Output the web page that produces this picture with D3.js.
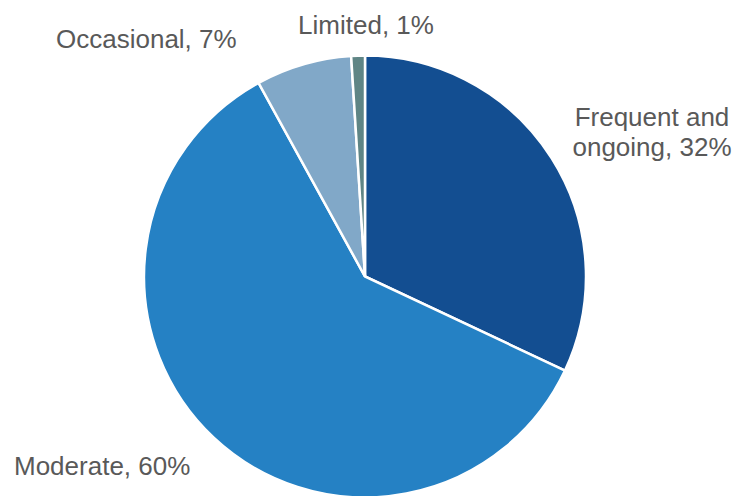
<!DOCTYPE html>
<html>
<head>
<meta charset="utf-8">
<script src="https://cdn.jsdelivr.net/npm/d3@7"></script>
<style>
  body { margin: 0; background: #fff; }
  svg text { font-family: "Liberation Sans", Arial, sans-serif; fill: #595959; }
</style>
</head>
<body>
<svg id="chart" width="735" height="496"></svg>
<script>
// slices, clockwise from 12 o'clock
const categories = ["Frequent and ongoing", "Moderate", "Occasional", "Limited"];
const values = [32, 60, 7, 1];
const colors = ["#134e91", "#2581c4", "#81a8c8", "#5f8585"];

// label lines + positions (anchor point, text-anchor)
const labelLines = [
  ["Frequent and", "ongoing, 32%"],
  ["Moderate, 60%"],
  ["Occasional, 7%"],
  ["Limited, 1%"]
];
const labelPos = [
  { x: 652, y: 125.5, anchor: "middle" },
  { x: 14, y: 475, anchor: "start" },
  { x: 56, y: 48, anchor: "start" },
  { x: 366, y: 34, anchor: "middle" }
];

const svg = d3.select("#chart");
const cx = 365, cy = 276.5, radius = 221;

const data = categories.map((c, i) => ({ name: c, value: values[i], color: colors[i] }));

const pie = d3.pie().value(d => d.value).sort(null);
const arc = d3.arc().innerRadius(0).outerRadius(radius);

const g = svg.append("g").attr("transform", `translate(${cx},${cy})`);

g.selectAll("path")
  .data(pie(data))
  .join("path")
  .attr("d", arc)
  .attr("fill", d => d.data.color)
  .attr("stroke", "#fff")
  .attr("stroke-width", 2.5)
  .attr("stroke-linejoin", "miter");

// labels
labelLines.forEach((lines, i) => {
  const p = labelPos[i];
  const t = svg.append("text")
    .attr("x", p.x)
    .attr("y", p.y)
    .attr("text-anchor", p.anchor)
    .attr("font-size", 26);
  lines.forEach((line, j) => {
    t.append("tspan")
      .attr("x", p.x)
      .attr("dy", j === 0 ? 0 : 30)
      .text(line);
  });
});
</script>
</body>
</html>
